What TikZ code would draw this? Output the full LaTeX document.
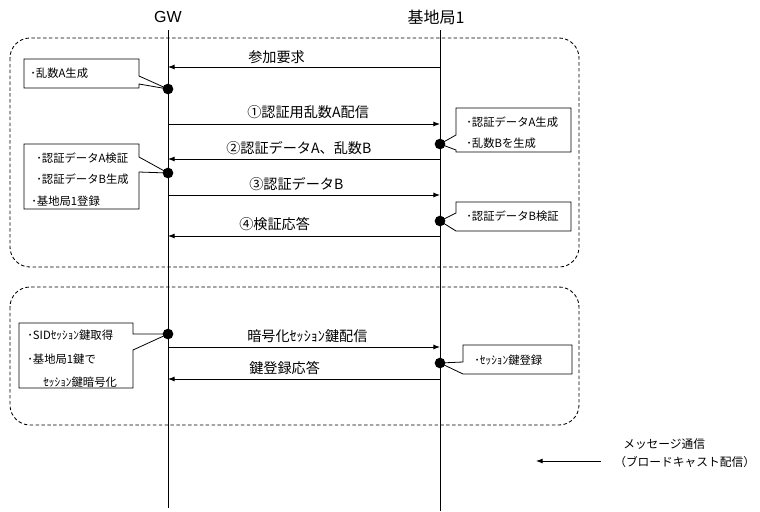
\documentclass[tikz,border=0pt]{standalone}
\usepackage{fontspec}
\setmainfont{Liberation Sans}
\newfontfamily\jp{Noto Sans CJK JP}
\usetikzlibrary{arrows.meta}
\begin{document}
\begin{tikzpicture}[x=0.75pt,y=-0.75pt,
  msg/.style={draw, line width=0.65pt, -{Latex[length=5pt,width=3.8pt]}},
  life/.style={draw, line width=0.65pt},
  group/.style={draw, dash pattern=on 2.6pt off 1.8pt, rounded corners=15pt, line width=0.65pt},
  dot/.style={circle, fill=black, inner sep=0pt, minimum size=8pt},
  callout/.style={draw, fill=white, line width=0.6pt},
  head/.style={font=\fontsize{12}{14}\selectfont, inner sep=0pt},
  lab/.style={font=\jp\fontsize{10.6}{12}\selectfont, anchor=west, inner sep=0pt},
  note/.style={font=\jp\fontsize{8.5}{10}\selectfont, anchor=west, inner sep=0pt},
  legend/.style={font=\jp\fontsize{8.8}{10}\selectfont, anchor=west, inner sep=0pt}]
\useasboundingbox (0,0) rectangle (760,511);
% groups
\draw[group] (10,38) rectangle (579,267);
\draw[group] (10,287) rectangle (579,425);
% headers and lifelines
\node[head] (gw) at (168,17) {GW};
\node[head] (bs) at (436,17) {\jp 基地局1};
\coordinate (gwtop) at (168,30);
\coordinate (gwbot) at (168,508);
\coordinate (bstop) at (440,30);
\coordinate (bsbot) at (440,511);
\draw[life] (gwtop) -- (gwbot);
\draw[life] (bstop) -- (bsbot);
% message endpoints
\coordinate (g1) at (168,67);  \coordinate (b1) at (440,67);
\coordinate (g2) at (168,124); \coordinate (b2) at (440,124);
\coordinate (g3) at (168,159); \coordinate (b3) at (440,159);
\coordinate (g4) at (168,195); \coordinate (b4) at (440,195);
\coordinate (g5) at (168,236); \coordinate (b5) at (440,236);
\coordinate (g6) at (168,347); \coordinate (b6) at (440,347);
\coordinate (g7) at (168,379); \coordinate (b7) at (440,379);
% messages
\draw[msg] (b1) -- (g1);
\draw[msg] (g2) -- (b2);
\draw[msg] (b3) -- (g3);
\draw[msg] (g4) -- (b4);
\draw[msg] (b5) -- (g5);
\draw[msg] (g6) -- (b6);
\draw[msg] (b7) -- (g7);
\node[lab] (m1) at (248,57) {参加要求};
\node[lab] (m2) at (247,112) {①認証用乱数A配信};
\node[lab] (m3) at (226,148) {②認証データA、乱数B};
\node[lab] (m4) at (249,184) {③認証データB};
\node[lab] (m5) at (239,224) {④検証応答};
\node[lab] (m6) at (247,336) {暗号化ｾｯｼｮﾝ鍵配信};
\node[lab] (m7) at (249,368) {鍵登録応答};
% dots
\coordinate (d1) at (168,89);
\coordinate (d2) at (440,144);
\coordinate (d3) at (168,173);
\coordinate (d4) at (440,221);
\coordinate (d5) at (168,334);
\coordinate (d6) at (440,363);
% callouts
\draw[callout] (24,59) -- (139,59) -- (139,76) -- (d1) -- (139,84) -- (139,88) -- (24,88) -- cycle;
\draw[callout] (456,108) -- (571,108) -- (571,152) -- (456,152) -- (456,150) -- (d2) -- (456,135) -- cycle;
\draw[callout] (24,144) -- (139,144) -- (139,157) -- (d3) -- (139,172) -- (139,209) -- (24,209) -- cycle;
\draw[callout] (456,202) -- (571,202) -- (571,231) -- (456,231) -- (d4) -- (456,213) -- cycle;
\draw[callout] (19,323) -- (133,323) -- (133,334) -- (d5) -- (133,350) -- (133,388) -- (19,388) -- cycle;
\draw[callout] (463,345) -- (572,345) -- (572,374) -- (463,374) -- (d6) -- (463,362) -- cycle;
\node[note] (n1) at (30,73) {･乱数A生成};
\node[note] (n2a) at (466,122) {･認証データA生成};
\node[note] (n2b) at (466,143) {･乱数Bを生成};
\node[note] (n3a) at (36,158) {･認証データA検証};
\node[note] (n3b) at (36,179) {･認証データB生成};
\node[note] (n3c) at (31,201) {･基地局1登録};
\node[note] (n4) at (466,216) {･認証データB検証};
\node[note] (n5a) at (27,335) {･SIDｾｯｼｮﾝ鍵取得};
\node[note] (n5b) at (27,359) {･基地局1鍵で};
\node[note] (n5c) at (43,382) {ｾｯｼｮﾝ鍵暗号化};
\node[note] (n6) at (474,360) {･ｾｯｼｮﾝ鍵登録};
\foreach \d in {d1,d2,d3,d4,d5,d6} \node[dot] at (\d) {};
% legend
\coordinate (lgA) at (601,461);
\coordinate (lgB) at (536,461);
\draw[msg] (lgA) -- (lgB);
\node[legend] (lg1) at (623,444) {メッセージ通信};
\node[legend] (lg2) at (614,462) {（ブロードキャスト配信）};
\end{tikzpicture}
\end{document}
